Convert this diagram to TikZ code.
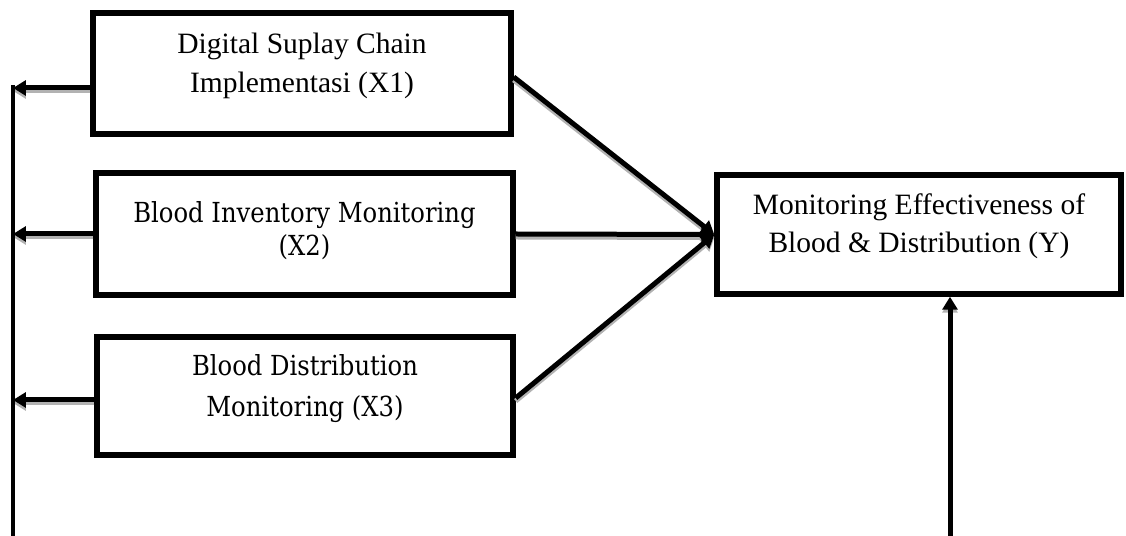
\documentclass[tikz,border=0pt]{standalone}
\usepackage{fontspec}
\setmainfont{Liberation Serif}
\newfontfamily\varfont{DejaVu Serif}[Scale=1.02, FakeStretch=0.88]
\usetikzlibrary{arrows.meta}

% all arrows into and out of the boxes
\newcommand{\linkarrows}{%
    \draw[conn] ([yshift=-0.07cm]x1.east) -- (y.west);
    \draw[conn] (x2.east) -- (y.west);
    \draw[conn] ([yshift=-0.04cm]x3.east) -- (y.west);
    \draw[conn] ([yshift=-0.29cm]x1.west) -- ([yshift=-0.29cm]x1.west -| top);
    \draw[conn] (x2.west) -- (x2.west -| top);
    \draw[conn] ([yshift=-0.08cm]x3.west) -- ([yshift=-0.08cm]x3.west -| top);
    \draw[conn] (in) -- (in |- y.south);
}

\begin{document}
\begin{tikzpicture}[x=0.02cm, y=-0.02cm,
    varbox/.style={draw, line width=0.11cm, align=center, inner sep=0pt,
        font=\fontsize{16.8}{22}\selectfont},
    conn/.style={line width=0.1cm, -{Triangle[length=0.26cm, width=0.3cm]}},
    line/.style={line width=0.1cm}]
    \useasboundingbox (0,0) rectangle (1126,536);

    % independent variables
    \node[varbox, minimum width=8.36cm, minimum height=2.42cm, text depth=0.42cm] (x1) at (302,73.5)
        {Digital Suplay Chain\\Implementasi (X1)};
    \node[varbox, minimum width=8.34cm, minimum height=2.44cm, text depth=0.22cm,
        font=\fontsize{15.4}{19}\selectfont\varfont] (x2) at (304.5,234)
        {Blood Inventory Monitoring\\(X2)};
    \node[varbox, minimum width=8.32cm, minimum height=2.36cm, text depth=0.42cm,
        font=\fontsize{15.4}{23}\selectfont\varfont] (x3) at (305,396)
        {Blood Distribution\\Monitoring (X3)};

    % dependent variable
    \node[varbox, minimum width=8.08cm, minimum height=2.38cm, text depth=0.45cm] (y) at (919,234.5)
        {Monitoring Effectiveness of\\Blood \& Distribution (Y)};

    \coordinate (top) at (13,88);
    \coordinate (bot) at (13,536);
    \coordinate (in) at (950,536);

    % grey shadow first, then the black arrows on top
    \begin{scope}[transform canvas={yshift=-0.06cm}, color=gray!60]
        \linkarrows
    \end{scope}
    \linkarrows
    \draw[line] (bot) -- ([yshift=0.05cm]top);
\end{tikzpicture}
\end{document}
